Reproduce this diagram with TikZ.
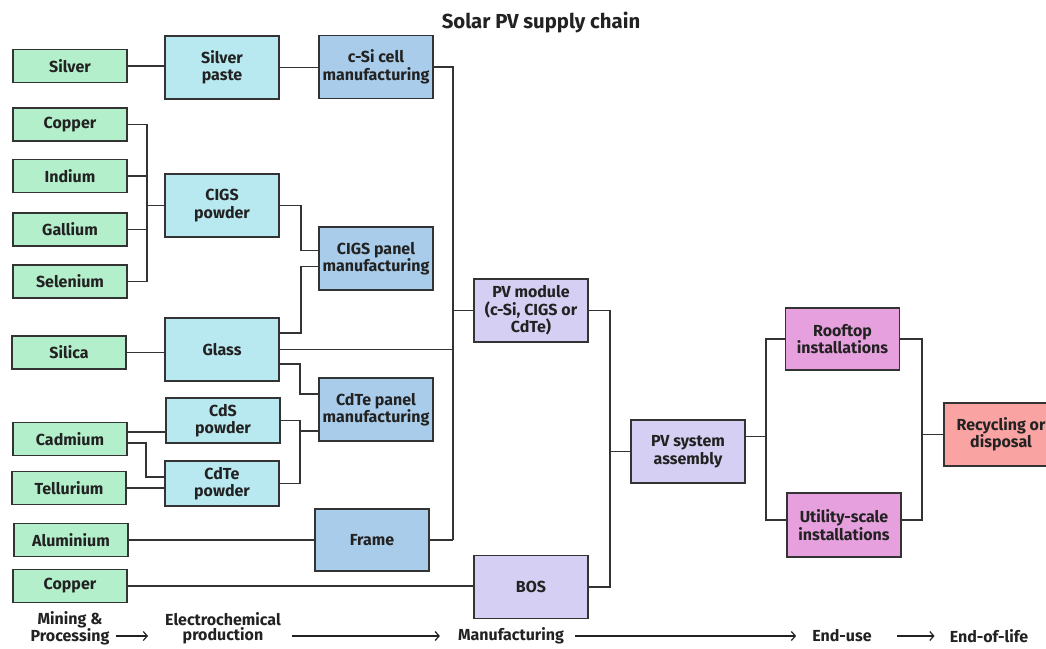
\documentclass[tikz,border=0pt]{standalone}
\usepackage{fontspec}
\setmainfont{Fira Sans}
\usetikzlibrary{arrows.meta}
\definecolor{cgreen}{HTML}{B4EFCB}
\definecolor{ccyan}{HTML}{B9E9F0}
\definecolor{cblue}{HTML}{A9CCEA}
\definecolor{clav}{HTML}{D5D0F3}
\definecolor{cpink}{HTML}{E6A0DD}
\definecolor{csalmon}{HTML}{F9A3A3}
\definecolor{cline}{HTML}{333333}
\definecolor{ctext}{HTML}{222222}
\begin{document}
\begin{tikzpicture}[x=1pt,y=-1pt,
  box/.style={draw=cline, line width=1.6pt, inner sep=0pt, align=center,
    minimum width=114pt, text=ctext,
    font=\bfseries\fontsize{16}{17.5}\selectfont},
  raw/.style={box, fill=cgreen, minimum height=33pt},
  mat/.style={box, fill=ccyan, minimum height=63pt},
  matsm/.style={box, fill=ccyan, minimum height=45pt},
  mfg/.style={box, fill=cblue, minimum height=63pt},
  asm/.style={box, fill=clav, minimum height=63pt},
  use/.style={box, fill=cpink, minimum height=62pt},
  eol/.style={box, fill=csalmon, minimum height=63pt},
  conn/.style={draw=cline, line width=1.3pt},
  stage/.style={inner sep=0pt, align=center, text=ctext,
    font=\bfseries\fontsize{16}{15.5}\selectfont},
  flow/.style={draw=ctext, line width=1.2pt, -{Straight Barb[length=4pt,width=9pt]}}]
\useasboundingbox (0,0) rectangle (1046,648);
\clip (0,0) rectangle (1046,648);
\fill[white] (0,0) rectangle (1046,648);

\node[font=\bfseries\fontsize{20.3}{22}\selectfont, text=ctext] (title) at (541,23) {Solar PV supply chain};

% raw materials
\node[raw] (silver)    at (70,66)    {Silver};
\node[raw] (copper)    at (70,124.5) {Copper};
\node[raw] (indium)    at (70,176)   {Indium};
\node[raw] (gallium)   at (70,229.5) {Gallium};
\node[raw] (selenium)  at (70,281.5) {Selenium};
\node[raw] (silica)    at (69,352.5) {Silica};
\node[raw] (cadmium)   at (70,439)   {Cadmium};
\node[raw] (tellurium) at (69,488)   {Tellurium};
\node[raw] (aluminium) at (71,540)   {Aluminium};
\node[raw] (copperb)   at (70,586)   {Copper};

% materials
\node[mat]   (paste)   at (222,67.5)  {Silver\\paste};
\node[mat]   (cigspow) at (222,205.5) {CIGS\\powder};
\node[mat]   (glass)   at (222,349.5) {Glass};
\node[matsm] (cds)     at (223,420.5) {CdS\\powder};
\node[matsm] (cdtepow) at (222,483.5) {CdTe\\powder};

% manufacturing
\node[mfg] (csi)     at (376,67)    {c-Si cell\\manufacturing};
\node[mfg] (cigspan) at (376,258.5) {CIGS panel\\manufacturing};
\node[mfg] (cdtepan) at (376,409.5) {CdTe panel\\manufacturing};
\node[mfg, minimum height=62pt] (frame) at (372,540) {Frame};

\node[asm] (pvmod) at (531,310.5) {PV module\\(c-Si, CIGS or\\CdTe)};
\node[asm] (bos)   at (531,587)   {BOS};
\node[asm] (pvsys) at (688,451.5) {PV system\\assembly};

\node[use] (rooftop) at (842.5,339) {Rooftop\\installations};
\node[use, minimum height=64pt] (utility) at (844,525) {Utility-scale\\installations};
\node[eol] (recycle) at (1001,434.5) {Recycling or\\disposal};

\coordinate (busx) at (453,0);
\coordinate (cigx) at (147,0);
\coordinate (cdx)  at (146,0);
\coordinate (glx)  at (301,0);
\coordinate (cpx)  at (300,0);
\coordinate (modx) at (610,0);
\coordinate (usex) at (766,0);
\coordinate (eolx) at (922,0);

% connectors: silver branch
\draw[conn] (silver.east) -- (silver.east -| paste.west);
\draw[conn] (paste.east) -- (paste.east -| csi.west);
\draw[conn] (csi.east) -- (csi.east -| busx) -- (frame.east -| busx);
\draw[conn] (frame.east) -- (frame.east -| busx);

% CIGS branch
\draw[conn] (copper.east) -- (copper.east -| cigx) -- (selenium.east -| cigx) -- (selenium.east);
\draw[conn] (indium.east) -- (indium.east -| cigx);
\draw[conn] (gallium.east) -- (gallium.east -| cigx);
\draw[conn] (cigspow.west -| cigx) -- (cigspow.west);
\draw[conn] (cigspow.east) -- (cigspow.east -| glx) -- ([yshift=8pt]cigspan.west -| glx) -- ([yshift=8pt]cigspan.west);
\draw[conn] ([yshift=-8pt]cigspan.west) -- ([yshift=-8pt]cigspan.west -| glx) -- ([yshift=16.5pt]glass.east -| glx) -- ([yshift=16.5pt]glass.east);

% glass
\draw[conn] (silica.east) -- (silica.east -| glass.west);
\draw[conn] (glass.east) -- (glass.east -| busx);
\draw[conn] ([yshift=-14.5pt]glass.east) -- ([yshift=-14.5pt]glass.east -| cpx) -- ([yshift=15.5pt]cdtepan.west -| cpx) -- ([yshift=15.5pt]cdtepan.west);

% CdTe branch
\draw[conn] ([yshift=7pt]cadmium.east) -- ([yshift=7pt]cadmium.east -| cds.west);
\draw[conn] ([yshift=-4pt]cadmium.east) -- ([yshift=-4pt]cadmium.east -| cdx) -- ([yshift=6.5pt]cdtepow.west -| cdx) -- ([yshift=6.5pt]cdtepow.west);
\draw[conn] (tellurium.east) -- (tellurium.east -| cdtepow.west);
\draw[conn] (cds.east) -- (cds.east -| cpx) -- (cdtepow.east -| cpx) -- (cdtepow.east);
\draw[conn] ([yshift=-21.5pt]cdtepan.west -| cpx) -- ([yshift=-21.5pt]cdtepan.west);

% frame, BOS
\draw[conn] (aluminium.east) -- (aluminium.east -| frame.west);
\draw[conn] (copperb.east) -- (copperb.east -| bos.west);

% module
\draw[conn] (pvmod.west -| busx) -- (pvmod.west);
\draw[conn] (pvmod.east) -- (pvmod.east -| modx) -- (bos.east -| modx) -- (bos.east);
\draw[conn] (pvsys.west -| modx) -- (pvsys.west);

% end use
\draw[conn] ([yshift=15pt]pvsys.east) -- ([yshift=15pt]pvsys.east -| usex);
\draw[conn] (rooftop.west) -- (rooftop.west -| usex) -- ([yshift=5pt]utility.west -| usex) -- ([yshift=5pt]utility.west);
\draw[conn] (rooftop.east) -- (rooftop.east -| eolx) -- ([yshift=5pt]utility.east -| eolx) -- ([yshift=5pt]utility.east);
\draw[conn] (recycle.west -| eolx) -- (recycle.west);

% stages
\node[stage] (s1) at (70,628.5)  {Mining \&\\Processing};
\node[stage] (s2) at (223,628.5) {Electrochemical\\production};
\node[stage] (s3) at (511,636) {Manufacturing};
\node[stage] (s4) at (842,636) {End-use};
\node[stage] (s5) at (989,636) {End-of-life};
\draw[flow] ([xshift=6pt]s1.east |- s3.west) -- ([xshift=-17pt]s2.west |- s3.west);
\draw[flow] ([xshift=11pt]s2.east |- s3.west) -- ([xshift=-18pt]s3.west);
\draw[flow] ([xshift=11pt]s3.east) -- ([xshift=-16pt]s4.west);
\draw[flow] ([xshift=25pt]s4.east) -- ([xshift=-15pt]s5.west);
\end{tikzpicture}
\end{document}
